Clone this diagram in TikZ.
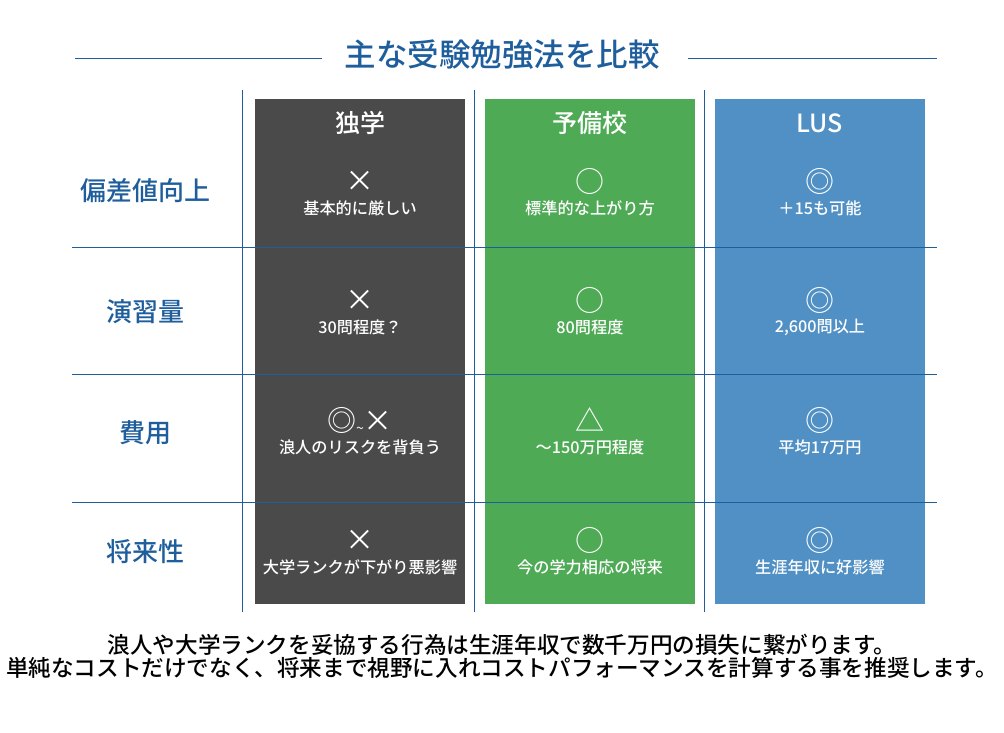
\documentclass[tikz,border=0pt]{standalone}
\usepackage{fontspec}
\setmainfont{Noto Sans CJK JP}
\newfontfamily\cjkm{Noto Sans CJK JP Medium}
\definecolor{tblue}{HTML}{1F5E9C}
\definecolor{dk}{HTML}{4A4A4A}
\definecolor{gr}{HTML}{4FAA55}
\definecolor{bl}{HTML}{5090C4}
\begin{document}
\begin{tikzpicture}[x=1pt,y=-1pt,
  rowlab/.style={text=tblue,font=\cjkm\fontsize{26}{28}\selectfont},
  head/.style={text=white,font=\cjkm\fontsize{25}{28}\selectfont},
  sym/.style={text=white,font=\fontsize{29}{30}\selectfont},
  note/.style={text=white,font=\cjkm\fontsize{16.2}{18}\selectfont},
  rule/.style={draw=tblue,line width=0.8pt}]
\useasboundingbox (0,0) rectangle (1004,732);
\node[text=tblue,font=\cjkm\fontsize{31.5}{34}\selectfont] (title) at (502,55) {主な受験勉強法を比較};
\draw[rule] (75,58) -- (322,58);
\draw[rule] (688,58) -- (937,58);
\fill[dk] (255,99) rectangle (465,604);
\fill[gr] (485,99) rectangle (695,604);
\fill[bl] (715,99) rectangle (925,604);
\foreach \x in {242,474,704} \draw[rule] (\x,90) -- (\x,612);
\foreach \y in {247,374,502} \draw[rule] (72,\y) -- (937,\y);
\node[head] (h1) at (360,123) {独学};
\node[head] (h2) at (590,123) {予備校};
\node[head] (h3) at (820,123) {LUS};
\node[rowlab] (r1) at (145,191) {偏差値向上};
\node[rowlab] (r2) at (145,312) {演習量};
\node[rowlab] (r3) at (145,433) {費用};
\node[rowlab] (r4) at (145,552) {将来性};
% row 1
\node[sym] at (360,181) {×}; \node[note] at (360,208) {基本的に厳しい};
\node[sym] at (590,181) {○}; \node[note] at (590,208) {標準的な上がり方};
\node[sym] at (820,181) {◎}; \node[note] at (820,208) {＋15も可能};
% row 2
\node[sym] at (360,300) {×}; \node[note] at (360,327) {30問程度？};
\node[sym] at (590,300) {○}; \node[note] at (590,327) {80問程度};
\node[sym] at (820,300) {◎}; \node[note] at (820,327) {2,600問以上};
% row 3
\node[sym] at (360,420) {◎{\fontsize{14}{14}\selectfont\raisebox{-2pt}{\textasciitilde}}×}; \node[note] at (360,447) {浪人のリスクを背負う};
\node[sym] at (590,420) {△}; \node[note] at (590,447) {～150万円程度};
\node[sym] at (820,420) {◎}; \node[note] at (820,447) {平均17万円};
% row 4
\node[sym] at (360,540) {×}; \node[note] at (360,567) {大学ランクが下がり悪影響};
\node[sym] at (590,540) {○}; \node[note] at (590,567) {今の学力相応の将来};
\node[sym] at (820,540) {◎}; \node[note] at (820,567) {生涯年収に好影響};
\node[font=\cjkm\fontsize{22.6}{24}\selectfont,align=center,inner xsep=0pt] (foot) at (502,656) {浪人や大学ランクを妥協する行為は生涯年収で数千万円の損失に繋がります。\\[-1pt]単純なコストだけでなく、将来まで視野に入れコストパフォーマンスを計算する事を推奨します。};
\end{tikzpicture}
\end{document}
